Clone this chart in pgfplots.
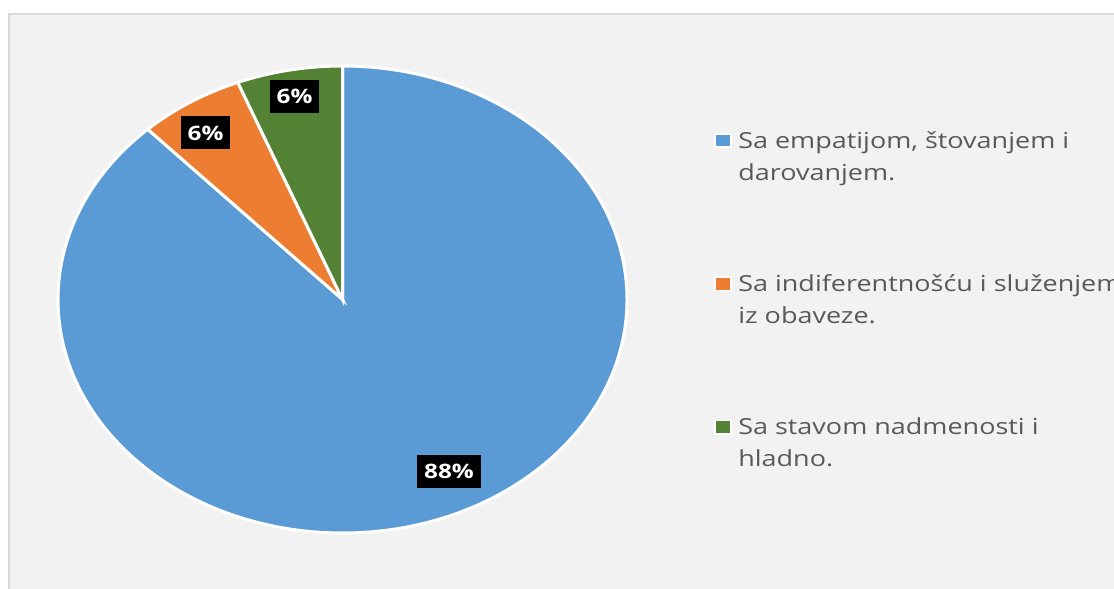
\documentclass[border=0pt]{standalone}
\usepackage{fontspec}
\setmainfont{Open Sans}[FakeStretch=1.22]
\usepackage{pgfplots}
\pgfplotsset{compat=1.18}

\definecolor{pieblue}{HTML}{5B9BD5}
\definecolor{pieorange}{HTML}{ED7D31}
\definecolor{piegreen}{HTML}{548235}
\definecolor{panelbg}{HTML}{F2F2F2}
\definecolor{panelline}{HTML}{D9D9D9}
\definecolor{textgray}{HTML}{595959}

\begin{document}
\begin{tikzpicture}
\begin{axis}[
    name=ax,
    x=142.25bp, y=116.75bp,
    xmin=-1.2039, xmax=2.7118,
    ymin=-1.2398, ymax=1.2827,
    hide axis, clip=false,
    legend style={at={(axis cs:1.306,0.7448)}, anchor=north west,
        draw=none, fill=none, inner sep=0pt,
        row sep=43bp, column sep=3bp,
        font=\fontsize{11.1}{16}\selectfont, text=textgray,
        nodes={inner sep=0pt, align=left}},
    legend cell align=left,
    legend image code/.code={
        \draw[#1, draw=white, line width=0.9bp] (0bp,3.6bp) rectangle (8bp,10.2bp);},
]
% background panel
\fill[white] (rel axis cs:0,0) rectangle (rel axis cs:1,1);
\fill[panelbg] (axis cs:-1.1722,-1.2398) rectangle (axis cs:2.7118,1.2227);
\draw[panelline, line width=1bp] (axis cs:-1.1722,-1.2398) -- (axis cs:-1.1722,1.2227) -- (axis cs:2.7118,1.2227);

% slices: 88%, 6%, 6%, clockwise from 12 o'clock
\fill[pieblue, draw=white, line width=1.5bp] (axis cs:0,0) -- (axis cs:0,1)
    arc[start angle=90, end angle={90-88*3.6}, x radius=142.25bp, y radius=116.75bp] -- cycle;
\fill[pieorange, draw=white, line width=1.5bp] (axis cs:0,0) -- (axis cs:{cos(90-88*3.6)},{sin(90-88*3.6)})
    arc[start angle={90-88*3.6}, end angle={90-94*3.6}, x radius=142.25bp, y radius=116.75bp] -- cycle;
\fill[piegreen, draw=white, line width=1.5bp] (axis cs:0,0) -- (axis cs:{cos(90-94*3.6)},{sin(90-94*3.6)})
    arc[start angle={90-94*3.6}, end angle={90-100*3.6}, x radius=142.25bp, y radius=116.75bp] -- cycle;

% data labels
\addplot[forget plot, only marks, mark=none, point meta=explicit symbolic,
    nodes near coords={\pgfplotspointmeta\%},
    nodes near coords style={anchor=center, fill=black, text=white,
        font=\bfseries\fontsize{10}{11}\selectfont,
        inner xsep=3.5bp, inner ysep=0pt, minimum height=16.5bp}]
    table[meta=lbl] {
x       y       lbl
0.3743  -0.7366 88
-0.4815 0.7131  6
-0.1687 0.8694  6
};

\addlegendimage{fill=pieblue}
\addlegendentry{\strut Sa empatijom, štovanjem i\\darovanjem.\strut}
\addlegendimage{fill=pieorange}
\addlegendentry{\strut Sa indiferentnošću i služenjem\\iz obaveze.\strut}
\addlegendimage{fill=piegreen}
\addlegendentry{\strut Sa stavom nadmenosti i\\hladno.\strut}
\end{axis}
\pgfresetboundingbox
\path (ax.south west) rectangle (ax.north east);
\end{tikzpicture}
\end{document}
